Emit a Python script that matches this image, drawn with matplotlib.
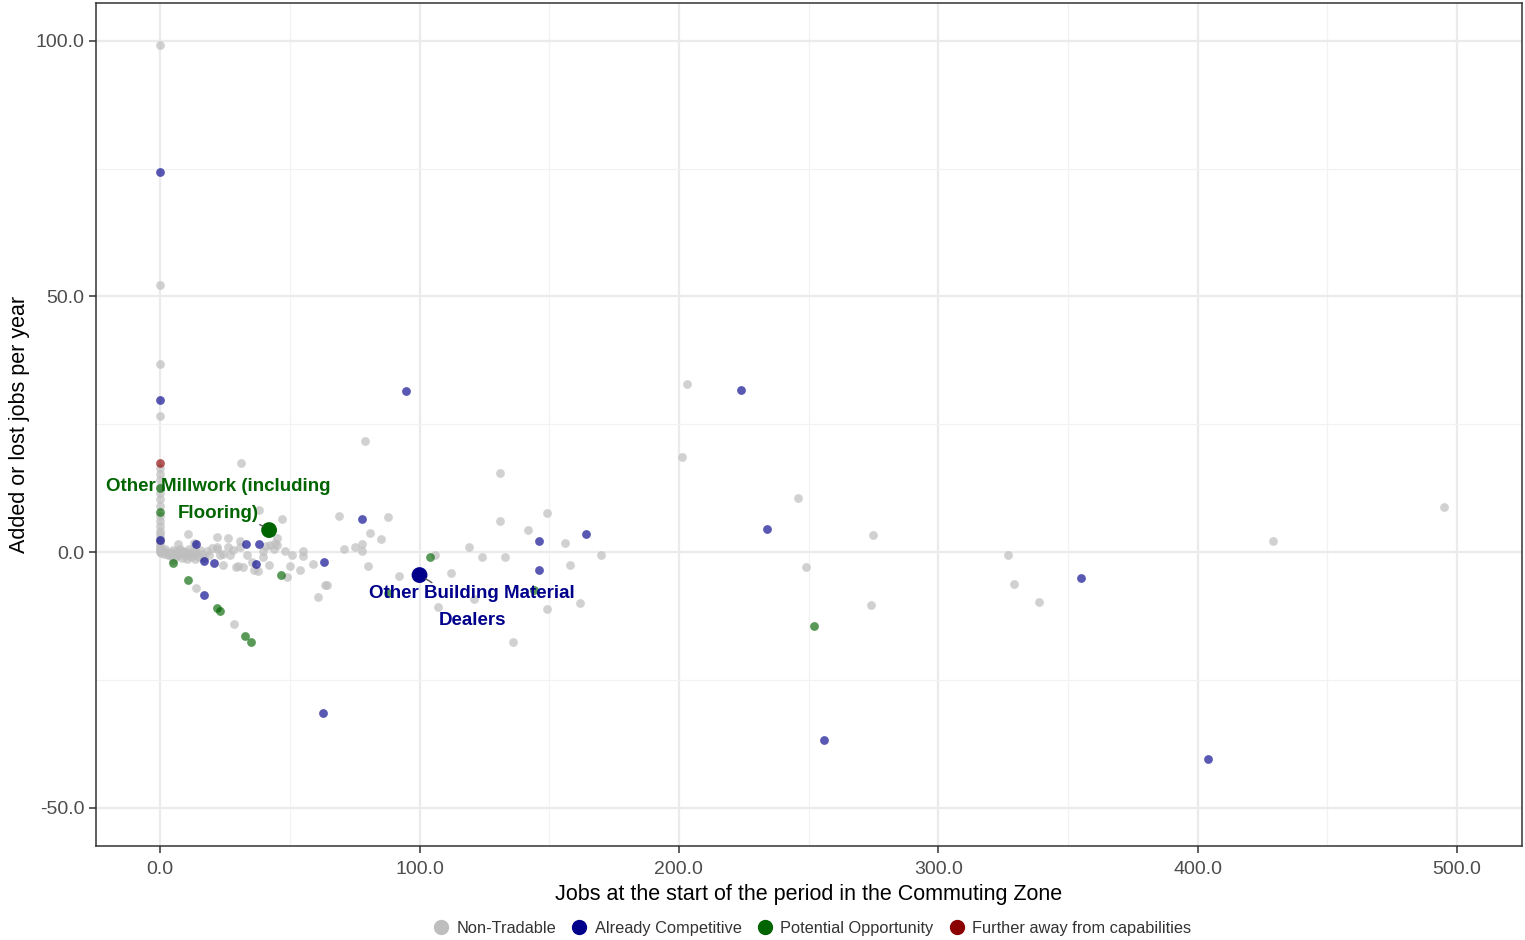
import matplotlib
matplotlib.use("Agg")
import matplotlib.pyplot as plt
from matplotlib.lines import Line2D

plt.rcParams['font.family'] = ['Liberation Sans', 'DejaVu Sans']

# ---------------- data ----------------
gray_x = [0, 0, 0, 0, 0, 0, 0, 0, 0, 0, 0, 0, 0, 0, 0, 0, 0, 0, 0, 0, 0, 0, 0,
          0.5, 1, 1.5, 2, 3,
          2, 3, 4, 4.5, 5, 5.5, 6, 6.5, 7, 7.5, 8, 8.5, 9, 9.5, 10, 10.5, 11, 11.5,
          12, 12.5, 13, 13.5, 14, 15, 15.5, 16, 17, 18, 19, 20, 10.9, 7, 13, 5,
          21.8, 26, 30.8, 22, 24.4, 27, 28, 29.2, 32, 33.4, 35.3, 36, 37.9, 39.8, 39.6,
          41, 42.4, 44.3, 45, 45, 46.9, 38.2, 31.1, 23, 24.4, 30, 21.8, 26.3, 30.8, 44, 48, 42,
          50.8, 55, 55, 58.9, 54, 49.9, 48.8, 64.4, 63.6, 61, 69, 71, 75, 78, 78, 80, 81, 85,
          88, 79, 28.3, 13.9, 92, 106, 107, 112, 119, 121, 124, 131, 131, 133, 136, 142,
          149, 149, 156, 158, 162, 170, 203, 201, 246, 249, 275, 274, 327, 329, 339, 429, 495]
gray_y = [99.2, 52.2, 36.8, 26.6, 16.5, 15.2, 14.0, 12.8, 11.5, 10.3, 9.0, 7.0, 6.0, 5.0,
          4.2, 3.5, 2.8, 2.2, 1.6, 1.0, 0.6, 0.3, 0.1,
          -0.2, 0.2, -0.4, 0.5, -0.3,
          0.3, -0.5, 0.1, -0.8, 0.4, -0.3, -1.0, 0.2, -0.6, 0.6, -0.2, -1.2, 0.3, -0.7,
          0.0, -1.4, 0.5, -0.4, -1.0, 0.2, -0.6, -1.3, 0.0, -0.9, 0.4, -0.3, -1.2, 0.3,
          -0.5, 0.8, 3.5, 1.5, 1.8, -1.5,
          2.9, 2.8, 2.2, 0.5, -0.3, -0.6, 0.4, -2.9, -2.9, -0.6, -1.9, -3.5, -3.8, -0.9, 0.2,
          1.2, 1.4, 1.7, 1.4, 2.7, 6.5, 8.2, 17.4, -0.6, -2.5, -2.7, 1.0, 0.9, 1.0, 0.6, 0.3, -2.5,
          -0.6, 0.3, -0.8, -2.3, -3.5, -2.7, -4.8, -6.5, -6.5, -8.7, 7.0, 0.6, 1.0, 1.5, 0.3,
          -2.7, 3.7, 2.6, 6.8, 21.8, -14.0, -7.0, -4.6, -0.6, -10.7, -4.0, 0.9, -9.2, -1.0,
          15.5, 6.1, -1.0, -17.6, 4.3, 7.6, -11.2, 1.8, -2.6, -10.0, -0.6, 32.9, 18.5, 10.6,
          -2.9, 3.3, -10.4, -0.5, -6.3, -9.8, 2.2, 8.8]

blue_x = [0, 0, 0, 94.8, 62.8, 224, 234, 355, 404, 256, 146, 146, 164, 78, 63, 33, 38.2,
          17, 20.9, 37, 17, 14]
blue_y = [74.4, 29.7, 2.4, 31.5, -31.5, 31.7, 4.5, -5.0, -40.4, -36.8, 2.1, -3.5, 3.5, 6.5,
          -2.0, 1.5, 1.5, -1.7, -2.1, -2.4, -8.4, 1.5]

green_x = [0, 0, 5, 10.8, 21.8, 23.1, 32.8, 35, 46.7, 104, 144, 252, 88]
green_y = [12.5, 7.8, -2.2, -5.5, -11.0, -11.5, -16.4, -17.5, -4.5, -1.0, -7.4, -14.5, -8.0]

red_x = [0]
red_y = [17.4]

hl_labels = ["Other Millwork (including\nFlooring)", "Other Building Material\nDealers"]
hl_x = [42, 100]
hl_y = [4.3, -4.5]
hl_colors = ["#006400", "#00008B"]
label_pos = [(22.5, 10.2), (120.3, -10.8)]

categories = ["Non-Tradable", "Already Competitive", "Potential Opportunity",
              "Further away from capabilities"]
cat_colors = ["#BEBEBE", "#00008B", "#006400", "#8B0000"]

x_ticks = [0, 100, 200, 300, 400, 500]
y_ticks = [-50, 0, 50, 100]

# ---------------- plot ----------------
fig = plt.figure(figsize=(15.25, 9.4), dpi=100)
ax = fig.add_axes([0.063, 0.1, 0.935, 0.8968])

ax.set_xlim(-24.7, 525)
ax.set_ylim(-57.5, 107.4)

ax.set_xticks(x_ticks)
ax.set_yticks(y_ticks)
ax.set_xticks([50, 150, 250, 350, 450], minor=True)
ax.set_yticks([-25, 25, 75], minor=True)
ax.grid(which='major', color='#EBEBEB', linewidth=1.6)
ax.grid(which='minor', color='#F2F2F2', linewidth=0.9)
ax.set_axisbelow(True)
ax.tick_params(which='minor', length=0)
ax.tick_params(which='major', length=5, width=1.1, color='#333333',
               labelsize=14, labelcolor='#4D4D4D')
ax.tick_params(axis='x', pad=6)
ax.set_xticklabels([f"{v:.1f}" for v in x_ticks])
ax.set_yticklabels([f"{v:.1f}" for v in y_ticks])
for s in ax.spines.values():
    s.set_color('#333333')
    s.set_linewidth(1.1)

ms = 40
ax.scatter(gray_x, gray_y, s=ms, color=cat_colors[0], alpha=0.7, linewidths=0, zorder=2)
ax.scatter(blue_x, blue_y, s=ms, color=cat_colors[1], alpha=0.65, linewidths=0, zorder=3)
ax.scatter(green_x, green_y, s=ms, color=cat_colors[2], alpha=0.65, linewidths=0, zorder=3)
ax.scatter(red_x, red_y, s=ms, color=cat_colors[3], alpha=0.65, linewidths=0, zorder=3)

ax.scatter(hl_x, hl_y, s=130, color=hl_colors, zorder=5, linewidths=0)
for lab, px, py, c, (lx, ly) in zip(hl_labels, hl_x, hl_y, hl_colors, label_pos):
    ax.annotate(lab, xy=(px, py), xytext=(lx, ly), ha='center', va='center',
                color=c, fontsize=13.5, fontweight='bold', linespacing=1.75, zorder=6,
                arrowprops=dict(arrowstyle='-', color='#555555', lw=1.0,
                                shrinkA=24, shrinkB=5))

ax.set_xlabel("Jobs at the start of the period in the Commuting Zone", fontsize=15.5,
              color='black', labelpad=4)
ax.set_ylabel("Added or lost jobs per year", fontsize=15.5, color='black', labelpad=4)

handles = [Line2D([0], [0], marker='o', linestyle='', markersize=10,
                  markerfacecolor=c, markeredgecolor=c) for c in cat_colors]
fig.legend(handles, categories, loc='center', bbox_to_anchor=(0.532, 0.012), ncol=4,
           frameon=False, fontsize=11.8, handletextpad=0.35, columnspacing=0.8,
           handlelength=1.2, labelcolor='#333333')

fig.savefig("out.png", dpi=100)
